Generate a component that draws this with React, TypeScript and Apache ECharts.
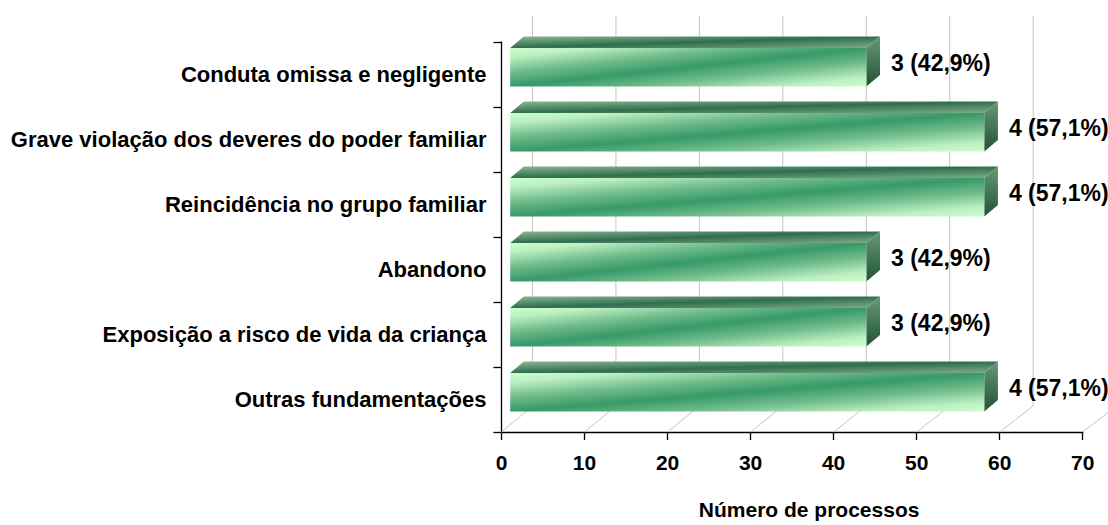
import React, { useEffect, useRef } from "react";
import * as echarts from "echarts";

// Fundamentação dos processos: número e percentagem por categoria
const categories = [
  "Conduta omissa e negligente",
  "Grave violação dos deveres do poder familiar",
  "Reincidência no grupo familiar",
  "Abandono",
  "Exposição a risco de vida da criança",
  "Outras fundamentações",
];
const processCounts = [3, 4, 4, 3, 3, 4];
const percentages = [42.9, 57.1, 57.1, 42.9, 42.9, 57.1];
const xTicks = [0, 10, 20, 30, 40, 50, 60, 70];
const axisTitle = "Número de processos";

// Oblique depth of the 3D box (pixels from front plane to back wall)
const DEPTH_X = 31;
const DEPTH_Y = -26;
const BACK_SCALE = 1.005;
// Bars sit in the middle of the depth
const BAR_FRONT = 0.28;
const BAR_BACK = 0.72;
const BAR_RATIO = 0.594;

const FONT = '"Liberation Sans", Arial, Helvetica, sans-serif';

const formatLabel = (i: number) =>
  `${processCounts[i]} (${percentages[i].toFixed(1).replace(".", ",")}%)`;

export default function App() {
  const ref = useRef<HTMLDivElement | null>(null);

  useEffect(() => {
    if (!ref.current) return;
    const chart = echarts.init(ref.current, undefined, { renderer: "svg" });

    const frontGrad = new echarts.graphic.LinearGradient(0, 0, 1, 1, [
      { offset: 0, color: "#ccffcc" },
      { offset: 0.12, color: "#bdf0c2" },
      { offset: 0.32, color: "#6fbb8a" },
      { offset: 0.5, color: "#369a68" },
      { offset: 0.68, color: "#6fbb8a" },
      { offset: 0.88, color: "#bdf0c2" },
      { offset: 1, color: "#ccffcc" },
    ]);
    const topGrad = new echarts.graphic.LinearGradient(0, 0, 1, 1, [
      { offset: 0, color: "#8cb894" },
      { offset: 0.5, color: "#2f6e4d" },
      { offset: 1, color: "#80ac8a" },
    ]);
    const sideGrad = new echarts.graphic.LinearGradient(0, 0, 0, 1, [
      { offset: 0, color: "#669a74" },
      { offset: 1, color: "#22523a" },
    ]);

    chart.setOption({
      animation: false,
      backgroundColor: "#ffffff",
      grid: { left: 501.5, top: 42, width: 581.2, height: 394, containLabel: false },
      xAxis: {
        type: "value",
        min: 0,
        max: 70,
        interval: 10,
        axisLine: { show: true, lineStyle: { color: "#000", width: 1.3 } },
        axisTick: { show: true, length: 8, lineStyle: { color: "#000", width: 1.3 } },
        axisLabel: {
          margin: 20,
          color: "#000",
          fontFamily: FONT,
          fontWeight: "bold",
          fontSize: 21,
        },
        splitLine: { show: false },
        name: axisTitle,
        nameLocation: "middle",
        nameGap: 67,
        nameTextStyle: {
          color: "#000",
          fontFamily: FONT,
          fontWeight: "bold",
          fontSize: 21,
          padding: [0, 0, 0, 34],
        },
      },
      yAxis: {
        type: "category",
        data: categories,
        inverse: true,
        axisLine: { show: true, lineStyle: { color: "#000", width: 1.3 } },
        axisTick: { show: true, length: 8, lineStyle: { color: "#000", width: 1.3 } },
        axisLabel: {
          margin: 15,
          color: "#000",
          fontFamily: FONT,
          fontWeight: "bold",
          fontSize: 22,
        },
        splitLine: { show: false },
      },
      series: [
        {
          // back wall gridlines and floor depth lines
          type: "custom",
          silent: true,
          z: 1,
          data: xTicks.map((t) => [t, 0]),
          encode: { x: 0, y: 1 },
          renderItem: (params: any, api: any) => {
            const cs = params.coordSys;
            const px = api.coord([api.value(0), 0])[0];
            const x0 = cs.x;
            const top = cs.y;
            const bottom = cs.y + cs.height;
            const bx = x0 + DEPTH_X + (px - x0) * BACK_SCALE;
            return {
              type: "polyline",
              shape: {
                points: [
                  [px, bottom],
                  [bx, bottom + DEPTH_Y],
                  [bx, top + DEPTH_Y],
                ],
              },
              style: { stroke: "#c4c4c4", lineWidth: 1, fill: null },
            };
          },
        },
        {
          // 3D bars with value labels
          type: "custom",
          z: 3,
          data: percentages.map((p, i) => [p, i]),
          encode: { x: 0, y: 1 },
          renderItem: (params: any, api: any) => {
            const v = api.value(0);
            const i = api.value(1);
            const [x0, yc] = api.coord([0, i]);
            const x1 = api.coord([v, i])[0];
            const band = api.size([0, 1])[1];
            const h = band * BAR_RATIO;
            const fx = x0 + BAR_FRONT * DEPTH_X;
            const fy = yc - h / 2 + BAR_FRONT * DEPTH_Y;
            const w = x1 - x0;
            const dx = (BAR_BACK - BAR_FRONT) * DEPTH_X;
            const dy = (BAR_BACK - BAR_FRONT) * DEPTH_Y;
            return {
              type: "group",
              children: [
                {
                  type: "polygon",
                  shape: {
                    points: [
                      [fx, fy],
                      [fx + w, fy],
                      [fx + w + dx, fy + dy],
                      [fx + dx, fy + dy],
                    ],
                  },
                  style: { fill: topGrad },
                },
                {
                  type: "polygon",
                  shape: {
                    points: [
                      [fx + w, fy],
                      [fx + w + dx, fy + dy],
                      [fx + w + dx, fy + h + dy],
                      [fx + w, fy + h],
                    ],
                  },
                  style: { fill: sideGrad },
                },
                {
                  type: "rect",
                  shape: { x: fx, y: fy, width: w, height: h },
                  style: { fill: frontGrad },
                },
                {
                  type: "text",
                  style: {
                    text: formatLabel(i),
                    x: fx + w + dx + 11,
                    y: yc + 0.5 * DEPTH_Y + 1,
                    align: "left",
                    verticalAlign: "middle",
                    fill: "#000",
                    font: `bold 23px ${FONT}`,
                  },
                },
              ],
            };
          },
        },
      ],
    });

    return () => chart.dispose();
  }, []);

  return (
    <div
      ref={ref}
      style={{ position: "fixed", left: 0, top: 0, width: 1108, height: 525, background: "#fff" }}
    />
  );
}
